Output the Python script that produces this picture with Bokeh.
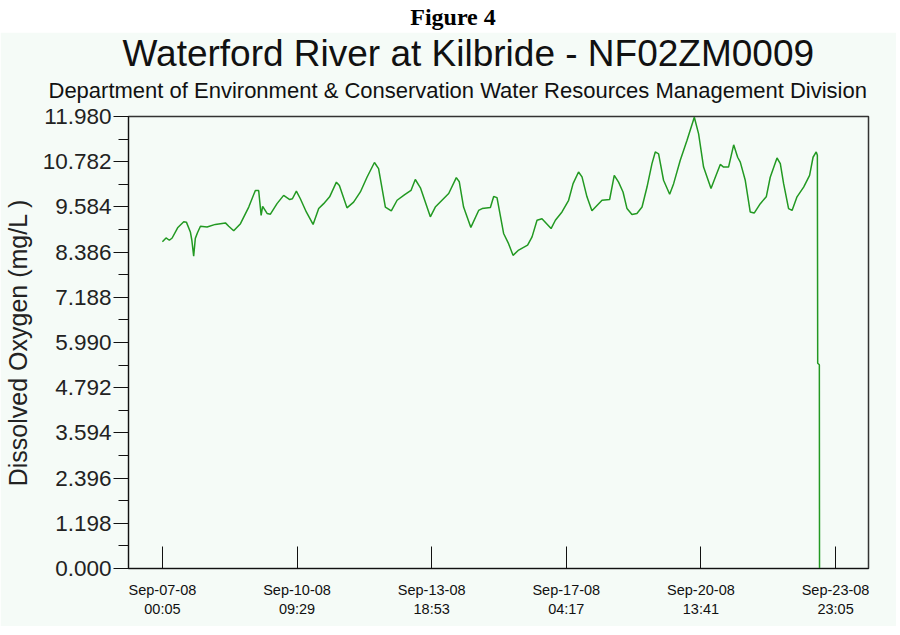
import pandas as pd
from bokeh.plotting import figure
from bokeh.models import (Range1d, FixedTicker, DatetimeTickFormatter,
                          PrintfTickFormatter, Title, Div, ColumnDataSource)
from bokeh.layouts import column
from bokeh.embed import file_html
from bokeh.resources import INLINE

# ---------------- data ----------------
start_time = "2008-09-07 00:05"
hours = [0.0, 2.2, 4.2, 5.9, 9.2, 12.9, 14.5, 16.9, 17.8, 18.9, 19.9, 21.2, 23.0,
         27.0, 32.0, 38.1, 40.1, 43.1, 47.2, 52.2, 56.2, 58.2, 59.7, 60.6, 63.3,
         65.3, 69.3, 73.3, 77.0, 78.6, 81.0, 83.4, 87.0, 91.1, 94.5, 97.5, 101.1,
         105.2, 107.0, 111.6, 115.6, 119.7, 123.7, 128.2, 130.7, 134.8, 138.4,
         141.9, 146.3, 150.3, 152.9, 156.0, 162.0, 165.0, 173.1, 177.7, 179.5,
         182.1, 186.5, 191.2, 193.3, 198.3, 200.3, 202.3, 206.3, 209.3, 212.0,
         215.4, 220.8, 223.5, 226.5, 229.5, 235.0, 237.6, 241.6, 245.6, 248.3,
         251.6, 253.7, 256.7, 259.7, 265.8, 270.4, 273.2, 275.8, 278.5, 280.9,
         283.9, 286.9, 290.0, 293.0, 296.0, 298.0, 300.0, 303.0, 306.7, 309.1,
         313.1, 317.2, 321.6, 324.2, 327.2, 331.7, 334.3, 337.3, 339.3, 342.3,
         345.4, 347.8, 349.4, 352.4, 355.4, 357.8, 361.5, 365.1, 367.5, 371.6,
         373.6, 375.6, 378.6, 380.7, 383.7, 387.7, 391.3, 393.4, 395.3, 396.0,
         396.2, 397.2, 397.3]
oxygen = [8.66, 8.76, 8.70, 8.76, 9.03, 9.19, 9.18, 8.92, 8.70, 8.28, 8.75, 8.90, 9.07,
          9.05, 9.12, 9.16, 9.07, 8.95, 9.14, 9.58, 10.02, 10.02, 9.36, 9.60, 9.41,
          9.39, 9.67, 9.89, 9.78, 9.80, 10.00, 9.80, 9.45, 9.12, 9.54, 9.67, 9.85,
          10.24, 10.15, 9.56, 9.71, 9.98, 10.37, 10.76, 10.60, 9.58, 9.48,
          9.76, 9.90, 10.02, 10.31, 10.09, 9.32, 9.58, 9.94, 10.36, 10.25,
          9.58, 9.04, 9.49, 9.54, 9.57, 9.86, 9.83, 8.88, 8.61, 8.30,
          8.44, 8.57, 8.79, 9.23, 9.27, 9.01, 9.23, 9.45, 9.76, 10.20,
          10.51, 10.38, 9.85, 9.48, 9.76, 9.78, 10.42, 10.24, 9.98, 9.54,
          9.38, 9.41, 9.58, 10.11, 10.73, 11.04, 10.99, 10.29, 9.92, 10.20,
          10.82, 11.35, 11.96, 11.52, 10.64, 10.07, 10.37, 10.71, 10.64, 10.64,
          11.23, 10.90, 10.77, 10.29, 9.45, 9.42, 9.67, 9.85, 10.37, 10.88,
          10.73, 10.20, 9.54, 9.49, 9.85, 10.11, 10.42, 10.90, 11.04, 10.95,
          5.44, 5.40, 0.0]
x_tick_times = ["2008-09-07 00:05", "2008-09-10 09:29", "2008-09-13 18:53",
                "2008-09-17 04:17", "2008-09-20 13:41", "2008-09-23 23:05"]
y_tick_values = [0.000, 1.198, 2.396, 3.594, 4.792, 5.990, 7.188, 8.386,
                 9.584, 10.782, 11.980]
x_limits = ["2008-09-06 03:35", "2008-09-24 19:00"]

title_text = "Waterford River at Kilbride - NF02ZM0009"
subtitle_text = "Department of Environment & Conservation Water Resources Management Division"
y_label = "Dissolved Oxygen (mg/L )"
figure_label = "Figure 4"

# ---------------- build ----------------
t0 = pd.Timestamp(start_time)
times = [t0 + pd.Timedelta(hours=h) for h in hours]
src = ColumnDataSource(dict(t=times, v=oxygen))

def to_ms(s):
    return (pd.Timestamp(s) - pd.Timestamp("1970-01-01")) / pd.Timedelta(milliseconds=1)

BG = "#f5fbf7"
FONT = "Liberation Sans"

p = figure(width=896, height=594, x_axis_type="datetime",
           output_backend="svg", toolbar_location=None,
           x_range=Range1d(pd.Timestamp(x_limits[0]).to_pydatetime(),
                           pd.Timestamp(x_limits[1]).to_pydatetime()),
           y_range=Range1d(y_tick_values[0], y_tick_values[-1]),
           min_border_left=128, min_border_right=28,
           min_border_top=84, min_border_bottom=58)
p.background_fill_color = BG
p.border_fill_color = BG
p.outline_line_color = "#333333"
p.outline_line_width = 1.5
p.grid.visible = False

p.line("t", "v", source=src, line_color="#229922", line_width=1.5)

# titles (subtitle first = closest to the frame)
p.add_layout(Title(text=subtitle_text, align="left", offset=-80, text_font=FONT,
                   text_font_size="22px", text_font_style="normal",
                   text_color="#111111", standoff=28), "above")
p.add_layout(Title(text=title_text, align="left", offset=-6, text_font=FONT,
                   text_font_size="37px", text_font_style="normal",
                   text_color="#111111", standoff=-25), "above")

# x axis
xa = p.xaxis[0]
xa.ticker = FixedTicker(ticks=[to_ms(s) for s in x_tick_times])
fmt = "%b-%d-%y\n%H:%M"
xa.formatter = DatetimeTickFormatter(milliseconds=fmt, seconds=fmt, minsec=fmt,
                                     minutes=fmt, hourmin=fmt, hours=fmt,
                                     days=fmt, months=fmt, years=fmt)
xa.major_tick_in = 22
xa.major_tick_out = 0
xa.minor_tick_in = 0
xa.minor_tick_out = 0
xa.major_label_text_font = FONT
xa.major_label_text_font_size = "14.5px"
xa.major_label_text_color = "#111111"
xa.major_label_standoff = 13
xa.axis_line_color = "#111111"
xa.major_tick_line_color = "#111111"

# y axis
ya = p.yaxis[0]
minor = [(a + b) / 2 for a, b in zip(y_tick_values[:-1], y_tick_values[1:])]
ya.ticker = FixedTicker(ticks=y_tick_values, minor_ticks=minor)
ya.formatter = PrintfTickFormatter(format="%.3f")
ya.major_tick_in = 0
ya.major_tick_out = 15
ya.minor_tick_in = 0
ya.minor_tick_out = 10
ya.major_label_text_font = FONT
ya.major_label_text_font_size = "22.5px"
ya.major_label_text_color = "#222222"
ya.major_label_standoff = 2
ya.axis_label = y_label
ya.axis_label_text_font = FONT
ya.axis_label_text_font_size = "25px"
ya.axis_label_text_font_style = "normal"
ya.axis_label_text_color = "#222222"
ya.axis_label_standoff = 8
ya.axis_line_color = "#111111"
ya.major_tick_line_color = "#111111"
ya.minor_tick_line_color = "#111111"

head = Div(text=figure_label, width=896, height=22,
           styles={"font-family": "Liberation Serif", "font-weight": "bold",
                   "font-size": "24px", "text-align": "center",
                   "line-height": "25px", "color": "#000000"})

layout = column(head, p, spacing=0)
open("out.html", "w").write(file_html(layout, INLINE))
